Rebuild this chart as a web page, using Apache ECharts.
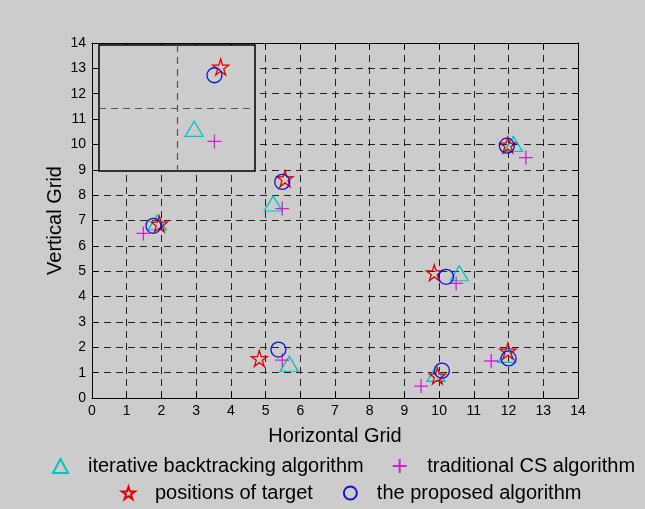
<!DOCTYPE html>
<html><head><meta charset="utf-8">
<script src="https://cdn.jsdelivr.net/npm/echarts@6/dist/echarts.min.js"></script>
<style>html,body{margin:0;padding:0;background:#cccccc}#c{width:645px;height:509px}</style>
</head><body><div id="c"></div>
<script>
// ---- data ----
const xRange = [0, 14];
const yRange = [0, 14];
const insetXRange = [4, 6];
const insetYRange = [7, 9];
const seriesNames = ['iterative backtracking algorithm', 'traditional CS algorithm', 'positions of target', 'the proposed algorithm'];
const iterativePos = [[1.88,6.93],[5.22,7.67],[5.68,1.35],[10.58,4.92],[9.91,0.95],[12.14,10.02],[11.95,1.70]];
const traditionalPos = [[1.48,6.49],[5.48,7.47],[5.48,1.49],[10.49,4.52],[9.48,0.47],[12.50,9.48],[11.50,1.46]];
const targetPos = [[1.94,6.86],[5.56,8.65],[4.82,1.56],[9.86,4.94],[9.95,0.87],[11.98,9.98],[11.98,1.85]];
const proposedPos = [[1.77,6.79],[5.48,8.52],[5.37,1.91],[10.20,4.78],[10.08,1.08],[11.95,9.95],[12.00,1.56]];

const FONT = '"Liberation Sans", Arial, Helvetica, sans-serif';
const starPath = 'path://M0,-1L0.2234,-0.3074L0.951,-0.309L0.3614,0.1174L0.588,0.809L0,0.38L-0.588,0.809L-0.3614,0.1174L-0.951,-0.309L-0.2234,-0.3074Z';
const plusPath = 'path://M0,-1L0,1M-1,0L1,0';

const styles = [
  {symbol: 'triangle', size: [18, 15], color: '#00c4c4', data: iterativePos},
  {symbol: plusPath, size: 14, color: '#d020d0', data: traditionalPos},
  {symbol: starPath, size: 16, color: '#e00000', data: targetPos},
  {symbol: 'circle', size: 15, color: '#1010d8', data: proposedPos}
];

const chart = echarts.init(document.getElementById('c'), null, {renderer: 'canvas'});

function mainAxis(dim, pos, labels, range, name) {
  const a = {
    gridIndex: 0, type: 'value', position: pos, min: range[0], max: range[1], interval: 1,
    axisLine: {show: true, onZero: false, lineStyle: {color: '#000', width: 1}},
    axisTick: {show: true, inside: true, length: 6, lineStyle: {color: '#000'}},
    axisLabel: {show: labels, color: '#000', fontSize: 14, fontFamily: FONT, margin: 6},
    splitLine: {show: labels, lineStyle: {color: '#222', width: 1, type: [7, 5]}}
  };
  if (name) {
    a.name = name; a.nameLocation = 'middle'; a.nameMoveOverlap = false;
    a.nameTextStyle = {color: '#000', fontSize: 20, fontFamily: FONT};
    a.nameGap = dim === 'x' ? 28 : 27;
  }
  return a;
}
function insetAxis(range) {
  return {
    gridIndex: 1, type: 'value', min: range[0], max: range[1], interval: 1, z: 11,
    axisLine: {show: false}, axisTick: {show: false}, axisLabel: {show: false},
    splitLine: {show: true, showMinLine: false, showMaxLine: false, lineStyle: {color: '#555', width: 1.2, type: [7, 5]}}
  };
}

const series = [];
styles.forEach((s, i) => {
  [0, 1].forEach(g => {
    series.push({
      type: 'scatter', name: seriesNames[i], xAxisIndex: g === 0 ? 0 : 2, yAxisIndex: g === 0 ? 0 : 2,
      data: s.data, symbol: s.symbol, symbolSize: s.size, clip: true, z: g === 0 ? 3 : 12,
      itemStyle: {color: 'transparent', borderColor: s.color, borderWidth: 1.3, opacity: 1},
      emphasis: {disabled: true}, animation: false
    });
  });
});

const legendText = {color: '#000', fontSize: 20, fontFamily: FONT, padding: [0, 0, 0, 15]};
chart.setOption({
  backgroundColor: '#cccccc',
  animation: false,
  grid: [
    {left: 92, top: 43, width: 486, height: 355, show: false, containLabel: false},
    {left: 99, top: 45, width: 156, height: 126, show: true, backgroundColor: '#cccccc', borderColor: '#000', borderWidth: 1.5, z: 10}
  ],
  xAxis: [
    mainAxis('x', 'bottom', true, xRange, 'Horizontal Grid'),
    mainAxis('x', 'top', false, xRange),
    insetAxis(insetXRange)
  ],
  yAxis: [
    mainAxis('y', 'left', true, yRange, 'Vertical Grid'),
    mainAxis('y', 'right', false, yRange),
    insetAxis(insetYRange)
  ],
  legend: [
    {data: seriesNames.slice(0, 2), left: 52, top: 456, padding: 0, itemWidth: 15, itemHeight: 14, itemGap: 28, textStyle: legendText, selectedMode: false},
    {data: seriesNames.slice(2, 4), left: 121, top: 483, padding: 0, itemWidth: 13, itemHeight: 13, itemGap: 30, textStyle: legendText, selectedMode: false}
  ],
  series: series
});
</script></body></html>
